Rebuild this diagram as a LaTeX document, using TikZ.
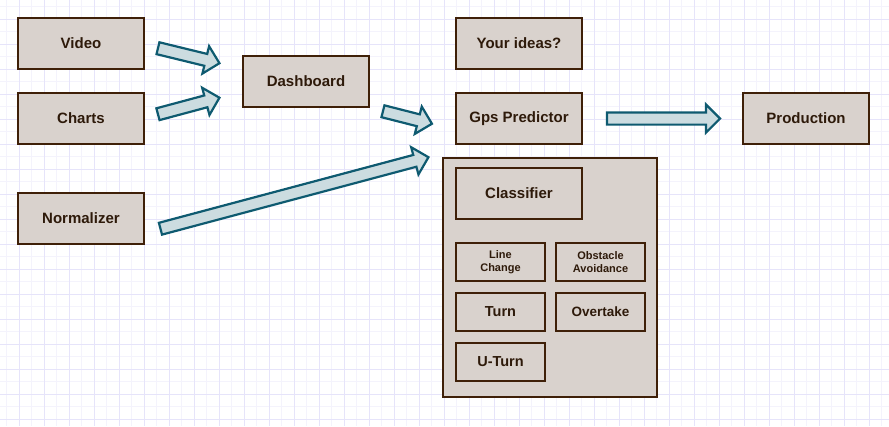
\documentclass[tikz,border=0pt]{standalone}
\usepackage{fontspec}
\setmainfont{Liberation Sans}
\usetikzlibrary{calc,shapes.arrows}

\definecolor{boxfill}{HTML}{D9D2CD}
\definecolor{boxline}{HTML}{3F2008}
\definecolor{boxtext}{HTML}{2E1A0A}
\definecolor{arrfill}{HTML}{CCDCE0}
\definecolor{arrline}{HTML}{0E5A70}
\definecolor{gridmajor}{HTML}{E6E4FA}
\definecolor{gridminor}{HTML}{F4F3FC}

% block arrow from one coordinate to another
\newcommand{\fatarrow}[3]{%
  \path let \p1=($(#3)-(#2)$), \n1={atan2(\y1,\x1)}, \n2={veclen(\x1,\y1)} in
    node[blockarrow, minimum height=\n2, rotate=\n1] (#1) at ($(#2)!0.5!(#3)$) {};}

\begin{document}
\begin{tikzpicture}[x=1pt,y=-1pt]
  \tikzset{box/.style={draw=boxline, line width=2.5pt, fill=boxfill, text=boxtext,
      font=\bfseries\fontsize{15}{18}\selectfont, minimum width=126pt, minimum height=51pt,
      inner sep=0pt, outer sep=0pt, align=center},
    smallbox/.style={box, minimum width=89pt, minimum height=38pt,
      font=\bfseries\fontsize{14.5}{17}\selectfont},
    tinytext/.style={font=\bfseries\fontsize{11}{12.7}\selectfont},
    panel/.style={draw=boxline, line width=2.5pt, fill=boxfill},
    blockarrow/.style={single arrow, draw=arrline, fill=arrfill, line width=2.2pt,
      inner xsep=0pt, inner ysep=5pt, single arrow head extend=8pt, outer sep=0pt}}
  \useasboundingbox (0,0) rectangle (889,426);
  % grid paper
  \foreach \i in {0,...,71} {
    \draw[gridminor, line width=0.8pt] ({6.8+12.5*\i},0) -- ++(0,426);
    \draw[gridminor, line width=0.8pt] (0,{6.8+12.5*\i}) -- ++(889,0);}
  \foreach \i in {0,...,35} {
    \draw[gridmajor, line width=0.8pt] ({19.3+25*\i},0) -- ++(0,426);
    \draw[gridmajor, line width=0.8pt] (0,{19.3+25*\i}) -- ++(889,0);}

  \node[box] (video) at (81,43.5) {Video};
  \node[box] (charts) at (81,118.5) {Charts};
  \node[box] (normalizer) at (81,218.5) {Normalizer};
  \node[box] (dashboard) at (306,81.5) {Dashboard};
  \node[box] (ideas) at (519,43.5) {Your ideas?};
  \node[box] (gps) at (519,118.5) {Gps Predictor};
  \node[box] (production) at (806,118.5) {Production};

  \draw[panel] (443,158) rectangle (657,397);
  \node[box] (classifier) at (519,193.5) {Classifier};
  \node[smallbox, tinytext] (linechange) at (500.5,262) {Line\\Change};
  \node[smallbox, tinytext] (obstacle) at (600.5,262) {Obstacle\\Avoidance};
  \node[smallbox] (turn) at (500.5,312) {Turn};
  \node[smallbox, font=\bfseries\fontsize{13.5}{16}\selectfont] (overtake) at (600.5,312) {Overtake};
  \node[smallbox] (uturn) at (500.5,362) {U-Turn};

  % arrow ends
  \coordinate (video-out) at (155,47.5);
  \coordinate (charts-out) at (155,115);
  \coordinate (dash-in1) at (216.5,62.5);
  \coordinate (dash-in2) at (216.5,98.5);
  \coordinate (dash-out) at (380,110.5);
  \coordinate (gps-in) at (429,123);
  \coordinate (norm-out) at (157.5,229.5);
  \coordinate (cls-in) at (425.5,158);
  \coordinate (gps-out) at (604,118.5);
  \coordinate (prod-in) at (717,118.5);

  \fatarrow{a1}{video-out}{dash-in1}
  \fatarrow{a2}{charts-out}{dash-in2}
  \fatarrow{a3}{dash-out}{gps-in}
  \fatarrow{a4}{norm-out}{cls-in}
  \fatarrow{a5}{gps-out}{prod-in}
\end{tikzpicture}
\end{document}
